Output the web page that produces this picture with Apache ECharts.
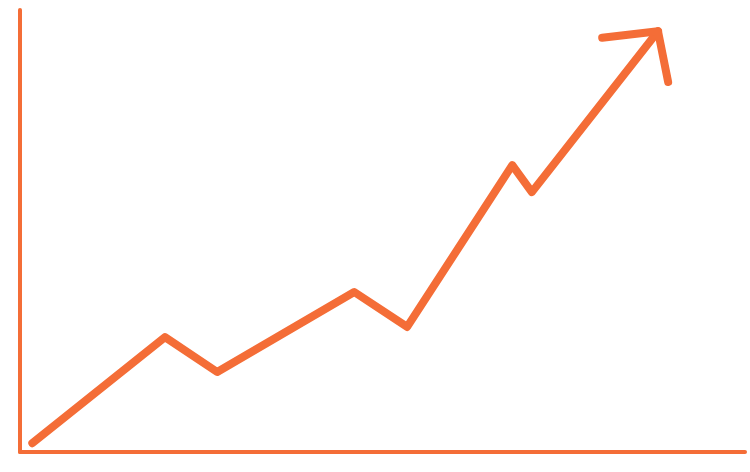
<!DOCTYPE html>
<html>
<head>
<meta charset="utf-8">
<style>
  html, body { margin: 0; padding: 0; background: #fff; }
  #chart { width: 750px; height: 472px; }
</style>
<script src="https://cdn.jsdelivr.net/npm/echarts@6/dist/echarts.min.js"></script>
</head>
<body>
<div id="chart"></div>
<script>
// trend line points, x and y on a 0..100 scale
var trendX = [1.7, 20.0, 27.2, 46.1, 53.4, 67.9, 70.6, 88.0];
var trendY = [2.0, 26.0, 18.1, 36.2, 28.3, 64.9, 58.8, 95.2];

// open arrow head at the end of the trend
var arrowX = [80.3, 88.0, 89.4];
var arrowY = [93.7, 95.2, 83.7];

var orange = '#F46D37';

function pairs(xs, ys) {
    var out = [];
    for (var i = 0; i < xs.length; i++) {
        out.push([xs[i], ys[i]]);
    }
    return out;
}

var lineStyle = {
    color: orange,
    width: 8,
    cap: 'round',
    join: 'round'
};

var option = {
    animation: false,
    grid: {
        left: 20,
        right: 5,
        top: 10,
        bottom: 20
    },
    xAxis: {
        type: 'value',
        min: 0,
        max: 100,
        axisLine: { show: true, lineStyle: { color: orange, width: 4 } },
        axisTick: { show: false },
        axisLabel: { show: false },
        splitLine: { show: false }
    },
    yAxis: {
        type: 'value',
        min: 0,
        max: 100,
        axisLine: { show: true, lineStyle: { color: orange, width: 4, cap: 'round' } },
        axisTick: { show: false },
        axisLabel: { show: false },
        splitLine: { show: false }
    },
    series: [
        {
            type: 'line',
            data: pairs(trendX, trendY),
            symbol: 'none',
            lineStyle: lineStyle
        },
        {
            type: 'line',
            data: pairs(arrowX, arrowY),
            symbol: 'none',
            lineStyle: lineStyle
        }
    ]
};

var chart = echarts.init(document.getElementById('chart'));
chart.setOption(option);
</script>
</body>
</html>
